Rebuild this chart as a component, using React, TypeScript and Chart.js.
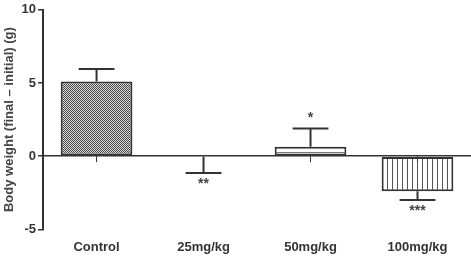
import React, { useEffect, useRef } from 'react';
import { Chart, registerables } from 'chart.js';

Chart.register(...registerables);

const categories = ['Control', '25mg/kg', '50mg/kg', '100mg/kg'];
const means = [5.1, -0.05, 0.65, -2.4];
const errors = [0.85, 1.1, 1.25, 0.6];
const significance = ['', '**', '*', '***'];
const yMin = -5;
const yMax = 10;
const yStep = 5;

const INK = '#333333';
const FONT = '"Liberation Sans", Arial, sans-serif';

function makePattern(kind: string): CanvasPattern | string {
  const c = document.createElement('canvas');
  const g = c.getContext('2d');
  if (!g) return '#888';
  if (kind === 'checker') {
    c.width = 2; c.height = 2;
    g.fillStyle = '#d8d8d8'; g.fillRect(0, 0, 2, 2);
    g.fillStyle = '#4a4a4a'; g.fillRect(0, 0, 1, 1); g.fillRect(1, 1, 1, 1);
  } else if (kind === 'hlines') {
    c.width = 6; c.height = 5;
    g.fillStyle = '#ffffff'; g.fillRect(0, 0, 6, 5);
    g.fillStyle = '#777777'; g.fillRect(0, 2, 6, 1);
  } else if (kind === 'vlines') {
    c.width = 5; c.height = 5;
    g.fillStyle = '#ffffff'; g.fillRect(0, 0, 5, 5);
    g.fillStyle = '#555555'; g.fillRect(2, 0, 1, 5);
  } else {
    c.width = 2; c.height = 2;
    g.fillStyle = '#ffffff'; g.fillRect(0, 0, 2, 2);
  }
  return g.createPattern(c, 'repeat') || '#888';
}

const errorPlugin = {
  id: 'errorBars',
  afterDatasetsDraw(chart: any) {
    const { ctx, scales } = chart;
    const xs = scales.x;
    const ys = scales.y;
    const meta = chart.getDatasetMeta(0);
    ctx.save();
    ctx.strokeStyle = INK;
    ctx.fillStyle = '#444';
    ctx.lineWidth = 2;
    means.forEach((m, i) => {
      const x = xs.getPixelForValue(i);
      const bw = meta.data[i] ? meta.data[i].width : 70;
      const y0 = ys.getPixelForValue(0);
      ctx.lineWidth = 1;
      ctx.beginPath();
      ctx.moveTo(x, y0);
      ctx.lineTo(x, y0 + 6);
      ctx.stroke();
      ctx.lineWidth = 2;
      const dir = m >= 0 ? 1 : -1;
      const yBar = ys.getPixelForValue(m);
      const yEnd = ys.getPixelForValue(m + dir * errors[i]);
      ctx.beginPath();
      ctx.moveTo(x, yBar);
      ctx.lineTo(x, yEnd);
      ctx.moveTo(x - bw / 4, yEnd);
      ctx.lineTo(x + bw / 4, yEnd);
      ctx.stroke();
      if (significance[i]) {
        ctx.font = `bold 14px ${FONT}`;
        ctx.textAlign = 'center';
        ctx.textBaseline = 'middle';
        const ty = dir > 0 ? yEnd - 10 : yEnd + 11;
        ctx.fillText(significance[i], x, ty);
      }
    });
    ctx.restore();
  },
};

export default function App() {
  const ref = useRef<HTMLCanvasElement | null>(null);
  useEffect(() => {
    if (!ref.current) return;
    const fills = [
      makePattern('checker'),
      makePattern('blank'),
      makePattern('hlines'),
      makePattern('vlines'),
    ];
    const chart = new Chart(ref.current, {
      type: 'bar',
      data: {
        labels: categories,
        datasets: [
          {
            data: means,
            backgroundColor: fills as any,
            borderColor: INK,
            borderWidth: 2,
            borderSkipped: false,
            barPercentage: 0.67,
            categoryPercentage: 1,
          },
        ],
      },
      options: {
        responsive: false,
        animation: false,
        layout: { padding: { top: 6, right: 0, left: 2, bottom: 3 } },
        plugins: { legend: { display: false }, tooltip: { enabled: false } },
        scales: {
          x: {
            grid: { display: false },
            border: { display: false },
            ticks: {
              color: INK,
              font: { family: FONT, size: 13, weight: 'bold' },
              padding: 2,
            },
          },
          y: {
            min: yMin,
            max: yMax,
            ticks: {
              stepSize: yStep,
              color: INK,
              font: { family: FONT, size: 13, weight: 'bold' },
              padding: 2,
            },
            grid: {
              color: (c: any) => (c.tick && c.tick.value === 0 ? INK : 'rgba(0,0,0,0)'),
              lineWidth: 1.5,
              tickColor: INK,
              tickLength: 5,
              drawTicks: true,
            },
            border: { display: true, color: INK, width: 2 },
            title: {
              display: true,
              text: 'Body weight (final \u2013 initial) (g)',
              color: '#444',
              font: { family: FONT, size: 13, weight: 'bold' },
              padding: { top: 0, bottom: 2 },
            },
          },
        },
      },
      plugins: [errorPlugin],
    });
    return () => chart.destroy();
  }, []);
  return (
    <div style={{ position: 'fixed', left: 0, top: 0, width: 471, height: 260, background: '#fff' }}>
      <canvas ref={ref} width={471} height={260} />
    </div>
  );
}
